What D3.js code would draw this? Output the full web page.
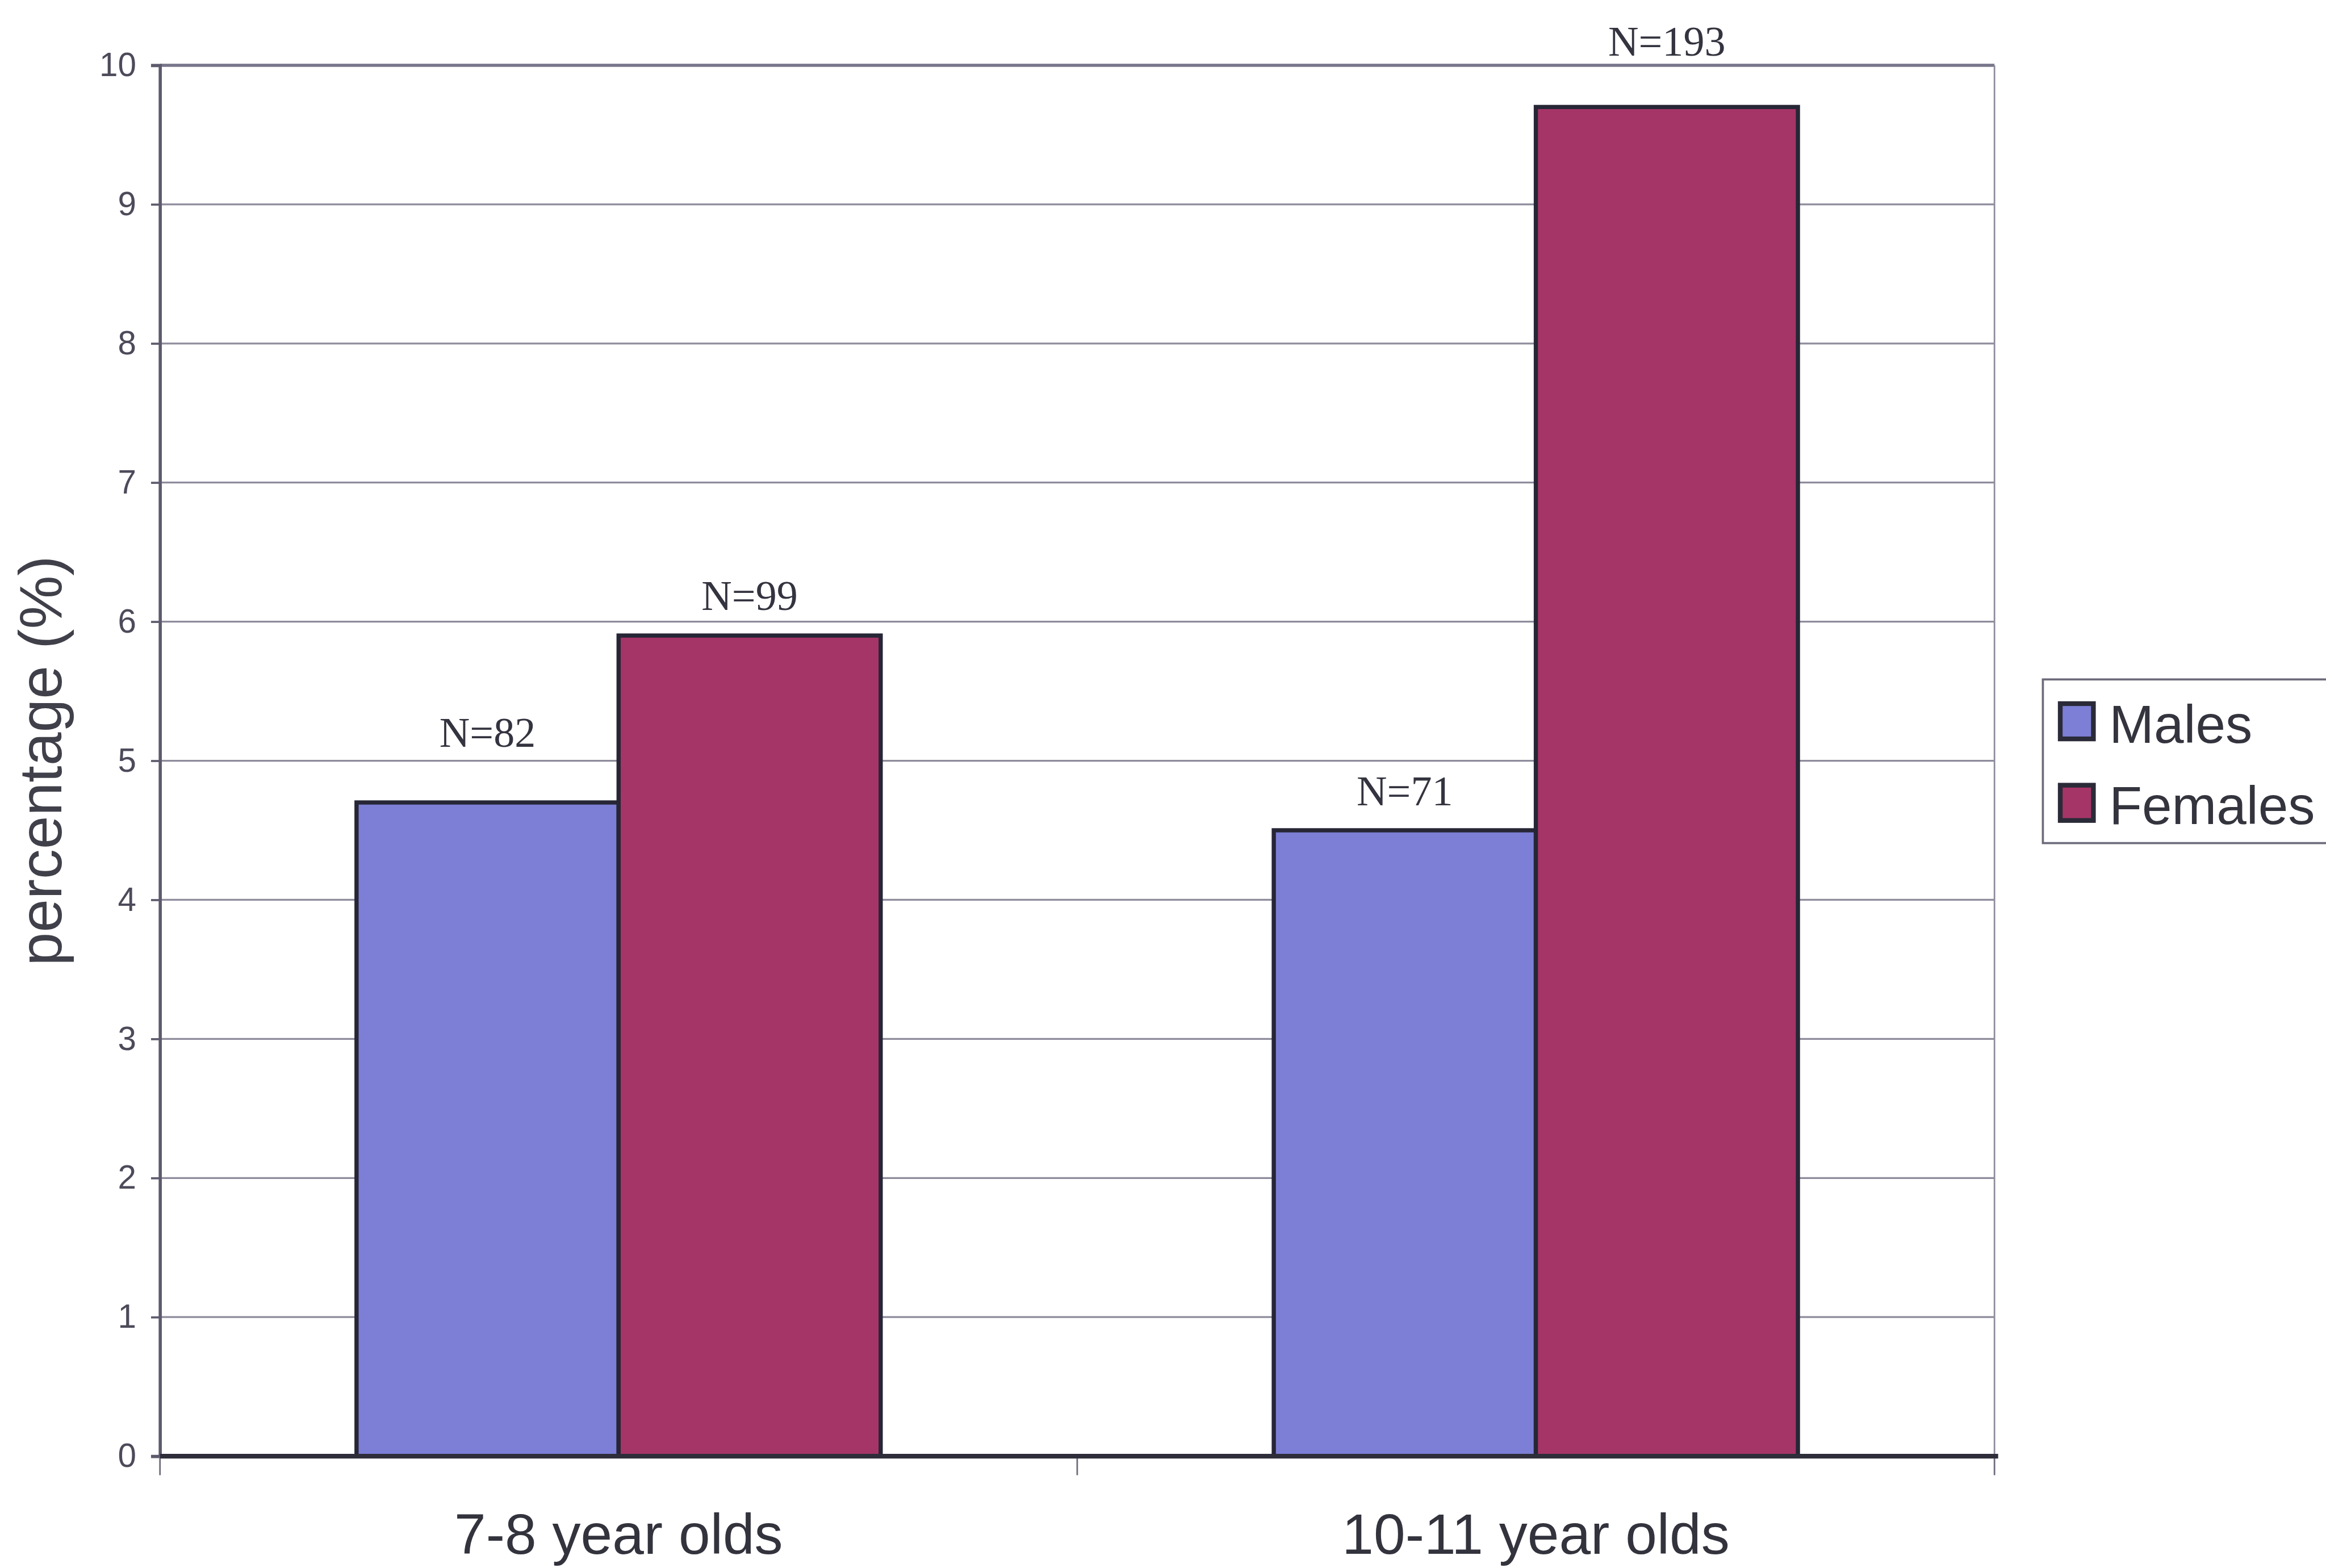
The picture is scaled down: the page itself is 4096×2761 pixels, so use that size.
<!DOCTYPE html>
<html>
<head>
<meta charset="utf-8">
<script src="https://cdn.jsdelivr.net/npm/d3@7"></script>
<style>
  html, body { margin: 0; padding: 0; background: #ffffff; }
  svg { display: block; }
</style>
</head>
<body>
<script>
// ---- data ----
const categories = ["7-8 year olds", "10-11 year olds"];
const seriesNames = ["Males", "Females"];
const malesPct = [4.7, 4.5];
const femalesPct = [5.9, 9.7];
const malesN = [82, 71];
const femalesN = [99, 193];
const yTicks = [0, 1, 2, 3, 4, 5, 6, 7, 8, 9, 10];

// ---- layout (drawn on a 4420 x 2979 design grid, then scaled to the window) ----
const W = 4096, H = 2761;
const baseW = 4420, baseH = 2979;
const k = W / baseW;
const plot = { left: 304, right: 3790, top: 124, bottom: 2767 };
const colors = { Males: "#7c7fd5", Females: "#a63567" };
// lift of each N label above its bar top, per series then category
const labelLift = { Males: [106, 48], Females: [49, 98] };

const values = { Males: malesPct, Females: femalesPct };
const counts = { Males: malesN, Females: femalesN };

const svg = d3.select("body").append("svg")
  .attr("width", W).attr("height", H)
  .attr("viewBox", `0 0 ${W} ${H}`);

svg.append("rect").attr("width", W).attr("height", H).attr("fill", "#ffffff");

const g = svg.append("g").attr("transform", `scale(${k})`);

const x0 = d3.scaleBand().domain(categories).range([plot.left, plot.right]).padding(0);
const barW = x0.bandwidth() / 3.5; // 150% gap between groups
const groupOffset = (x0.bandwidth() - 2 * barW) / 2;
const x1 = d3.scaleBand().domain(seriesNames).range([0, 2 * barW]).padding(0);
const y = d3.scaleLinear().domain([0, 10]).range([plot.bottom, plot.top]);

// horizontal gridlines
g.append("g").selectAll("line")
  .data(yTicks.filter(t => t > 0 && t < 10))
  .join("line")
  .attr("x1", plot.left).attr("x2", plot.right)
  .attr("y1", d => y(d)).attr("y2", d => y(d))
  .attr("stroke", "#8e8c9c").attr("stroke-width", 3.5);

// plot frame: top and right
g.append("line")
  .attr("x1", plot.left).attr("x2", plot.right)
  .attr("y1", y(10)).attr("y2", y(10))
  .attr("stroke", "#77758a").attr("stroke-width", 6);
g.append("line")
  .attr("x1", plot.right).attr("x2", plot.right)
  .attr("y1", y(10)).attr("y2", y(0))
  .attr("stroke", "#8e8c9c").attr("stroke-width", 3);

// bars
const rows = [];
categories.forEach((c, i) => {
  seriesNames.forEach(s => {
    rows.push({ cat: c, series: s, value: values[s][i], n: counts[s][i], lift: labelLift[s][i] });
  });
});

g.append("g").selectAll("rect")
  .data(rows)
  .join("rect")
  .attr("x", d => x0(d.cat) + groupOffset + x1(d.series))
  .attr("y", d => y(d.value))
  .attr("width", x1.bandwidth())
  .attr("height", d => y(0) - y(d.value))
  .attr("fill", d => colors[d.series])
  .attr("stroke", "#262636")
  .attr("stroke-width", 8);

// N labels above bars
g.append("g").selectAll("text")
  .data(rows)
  .join("text")
  .attr("x", d => x0(d.cat) + groupOffset + x1(d.series) + x1.bandwidth() / 2)
  .attr("y", d => y(d.value) - d.lift)
  .attr("text-anchor", "middle")
  .attr("font-family", "'Liberation Serif', 'Times New Roman', serif")
  .attr("font-size", 80)
  .attr("fill", "#343440")
  .text(d => "N=" + d.n);

// y axis
const yAxis = d3.axisLeft(y).tickValues(yTicks).tickSize(17).tickPadding(28).tickFormat(d3.format("d"));
const ya = g.append("g").attr("transform", `translate(${plot.left},0)`).call(yAxis);
ya.select(".domain").attr("stroke", "#5c5a6c").attr("stroke-width", 6);
ya.selectAll(".tick line").attr("stroke", "#5c5a6c").attr("stroke-width", 4);
ya.selectAll(".tick text")
  .attr("font-family", "'Liberation Sans', Arial, sans-serif")
  .attr("font-size", 63)
  .attr("fill", "#4d4b5a");

// x axis: category boundary ticks and baseline
const boundaries = [plot.left, ...categories.map(c => x0(c) + x0.bandwidth())];
g.append("g").selectAll("line")
  .data(boundaries)
  .join("line")
  .attr("x1", d => d).attr("x2", d => d)
  .attr("y1", plot.bottom).attr("y2", plot.bottom + 36)
  .attr("stroke", "#6e6c7c").attr("stroke-width", 3);
g.append("line")
  .attr("x1", plot.left).attr("x2", plot.right + 7)
  .attr("y1", plot.bottom).attr("y2", plot.bottom)
  .attr("stroke", "#2e2d3a").attr("stroke-width", 9);

g.append("g").selectAll("text")
  .data(categories)
  .join("text")
  .attr("x", d => x0(d) + x0.bandwidth() / 2)
  .attr("y", 2952)
  .attr("text-anchor", "middle")
  .attr("font-family", "'Liberation Sans', Arial, sans-serif")
  .attr("font-size", 108)
  .attr("fill", "#33333d")
  .text(d => d);

// y axis title
g.append("text")
  .attr("transform", `translate(117,${(plot.top + plot.bottom) / 2}) rotate(-90)`)
  .attr("text-anchor", "middle")
  .attr("font-family", "'Liberation Sans', Arial, sans-serif")
  .attr("font-size", 114)
  .attr("fill", "#40404a")
  .text("percentage (%)");

// legend
const legend = g.append("g");
legend.append("rect")
  .attr("x", 3882).attr("y", 1291)
  .attr("width", 620).attr("height", 311)
  .attr("fill", "#ffffff")
  .attr("stroke", "#6c6b7a").attr("stroke-width", 4);
const items = legend.selectAll("g.item")
  .data(seriesNames)
  .join("g").attr("class", "item")
  .attr("transform", (d, i) => `translate(0,${i * 155})`);
items.append("rect")
  .attr("x", 3915).attr("y", 1337)
  .attr("width", 63).attr("height", 67)
  .attr("fill", d => colors[d])
  .attr("stroke", "#2a2a38").attr("stroke-width", 9);
items.append("text")
  .attr("x", 4008).attr("y", 1411)
  .attr("font-family", "'Liberation Sans', Arial, sans-serif")
  .attr("font-size", 102)
  .attr("fill", "#34343e")
  .text(d => d);
</script>
</body>
</html>
